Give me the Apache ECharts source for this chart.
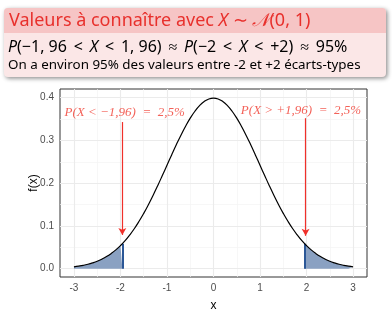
<!DOCTYPE html>
<html><head><meta charset="utf-8">
<script src="https://cdn.jsdelivr.net/npm/echarts@6/dist/echarts.min.js"></script>
<style>html,body{margin:0;padding:0;background:#fff}#c{width:392px;height:313px}</style>
</head><body><div id="c"></div>
<script>
// ---- data ----
const xValues = [-3.0,-2.9,-2.8,-2.7,-2.6,-2.5,-2.4,-2.3,-2.2,-2.1,-2.0,-1.9,-1.8,-1.7,-1.6,-1.5,-1.4,-1.3,-1.2,-1.1,-1.0,-0.9,-0.8,-0.7,-0.6,-0.5,-0.4,-0.3,-0.2,-0.1,0.0,0.1,0.2,0.3,0.4,0.5,0.6,0.7,0.8,0.9,1.0,1.1,1.2,1.3,1.4,1.5,1.6,1.7,1.8,1.9,2.0,2.1,2.2,2.3,2.4,2.5,2.6,2.7,2.8,2.9,3.0];
const densityValues = [0.0044,0.0060,0.0079,0.0104,0.0136,0.0175,0.0224,0.0283,0.0355,0.0440,0.0540,0.0656,0.0790,0.0940,0.1109,0.1295,0.1497,0.1714,0.1942,0.2179,0.2420,0.2661,0.2897,0.3123,0.3332,0.3521,0.3683,0.3814,0.3910,0.3970,0.3989,0.3970,0.3910,0.3814,0.3683,0.3521,0.3332,0.3123,0.2897,0.2661,0.2420,0.2179,0.1942,0.1714,0.1497,0.1295,0.1109,0.0940,0.0790,0.0656,0.0540,0.0440,0.0355,0.0283,0.0224,0.0175,0.0136,0.0104,0.0079,0.0060,0.0044];
const cutoffLeft = -1.96;
const cutoffRight = 1.96;
const cutoffDensity = 0.0584;
const xTicks = [-3,-2,-1,0,1,2,3];
const xMinorGrid = [-2.5,-1.5,-0.5,0.5,1.5,2.5];
const yTicks = [0,0.1,0.2,0.3,0.4];
const yMinorGrid = [0.05,0.15,0.25,0.35];
const annotationTexts = ['P(X < \u22121,96)  =  2,5%','P(X > +1,96)  =  2,5%'];
const annotationX = [-1.91, 1.88];
const annotationY = [0.364, 0.371];
const arrowX = [-1.96, 1.98];
const arrowTop = [0.343, 0.352];
const arrowTip = [0.079, 0.077];

// ---- build ----
const curve = xValues.map((x,i)=>[x,densityValues[i]]);
const leftTail = curve.filter(p=>p[0] <= cutoffLeft).concat([[cutoffLeft,cutoffDensity]]);
const rightTail = [[cutoffRight,cutoffDensity]].concat(curve.filter(p=>p[0] >= cutoffRight));

const majorCol = '#ebebeb', minorCol = '#f4f4f4';
const gridLines = []
  .concat(xMinorGrid.map(v=>({xAxis:v, lineStyle:{color:minorCol,width:0.7,type:'solid'}})))
  .concat(yMinorGrid.map(v=>({yAxis:v, lineStyle:{color:minorCol,width:0.7,type:'solid'}})))
  .concat(xTicks.map(v=>({xAxis:v, lineStyle:{color:majorCol,width:1.1,type:'solid'}})))
  .concat(yTicks.map(v=>({yAxis:v, lineStyle:{color:majorCol,width:1.1,type:'solid'}})));

const fillCol = '#8aa1c2', edgeCol = '#2b5797', red = '#f0302a';
const T = '\u2009';

const chart = echarts.init(document.getElementById('c'), null, {renderer:'canvas'});
chart.setOption({
  animation:false,
  grid:{left:60,right:25,top:89,bottom:36,show:true,borderColor:'#333',borderWidth:1,backgroundColor:'#fff',containLabel:false,outerBoundsMode:'none'},
  xAxis:{type:'value',min:-3.3,max:3.3,
    name:'x',nameLocation:'middle',nameGap:23,nameMoveOverlap:false,nameTextStyle:{color:'#000',fontSize:12,fontFamily:'Liberation Sans'},
    axisLine:{show:false},splitLine:{show:false},
    axisTick:{show:true,customValues:xTicks,length:3,lineStyle:{color:'#333'}},
    axisLabel:{customValues:xTicks,margin:6,color:'#4d4d4d',fontSize:10,fontFamily:'Liberation Sans',formatter:v=>String(v)}},
  yAxis:{type:'value',min:-0.0194,max:0.4203,
    name:'f(x)',nameLocation:'middle',nameGap:20,nameMoveOverlap:false,nameTextStyle:{color:'#000',fontSize:12,fontFamily:'Liberation Sans'},
    axisLine:{show:false},splitLine:{show:false},
    axisTick:{show:true,customValues:yTicks,length:3,lineStyle:{color:'#333'}},
    axisLabel:{customValues:yTicks,margin:6,color:'#4d4d4d',fontSize:10,fontFamily:'Liberation Sans',formatter:v=>v.toFixed(1)}},
  series:[
    {type:'line',data:[],z:1,silent:true,
      markLine:{z:1,silent:true,animation:false,symbol:['none','none'],label:{show:false},data:gridLines}},
    {type:'line',data:leftTail,showSymbol:false,lineStyle:{width:0},areaStyle:{color:fillCol,opacity:1},z:2,
      markLine:{z:3,silent:true,symbol:['none','none'],label:{show:false},lineStyle:{color:edgeCol,width:2,type:'solid'},
        data:[[{coord:[cutoffLeft,0]},{coord:[cutoffLeft,cutoffDensity]}]]}},
    {type:'line',data:rightTail,showSymbol:false,lineStyle:{width:0},areaStyle:{color:fillCol,opacity:1},z:2,
      markLine:{z:3,silent:true,symbol:['none','none'],label:{show:false},lineStyle:{color:edgeCol,width:2,type:'solid'},
        data:[[{coord:[cutoffRight,0]},{coord:[cutoffRight,cutoffDensity]}]]}},
    {type:'line',data:curve,smooth:true,showSymbol:false,lineStyle:{color:'#000',width:1.2},z:4},
    {type:'line',data:[],z:5,
      markLine:{z:5,silent:true,symbol:['none','arrow'],symbolSize:[6,7],label:{show:false},lineStyle:{color:red,width:1.2,type:'solid'},
        data:arrowX.map((x,i)=>[{coord:[x,arrowTop[i]]},{coord:[x,arrowTip[i]]}])}},
    {type:'scatter',symbolSize:0,z:6,
      data:annotationTexts.map((t,i)=>({name:t,value:[annotationX[i],annotationY[i]]})),
      label:{show:true,position:'inside',formatter:'{b}',color:'#f03a2e',fontSize:13,fontStyle:'italic',fontFamily:'Liberation Serif'}}
  ],
  graphic:[
    {type:'rect',shape:{x:4,y:8,width:382,height:69,r:4},z:0,
      style:{fill:'#fbe7e7',shadowBlur:4,shadowColor:'rgba(0,0,0,0.45)',shadowOffsetX:1.5,shadowOffsetY:1.5}},
    {type:'rect',shape:{x:4,y:8,width:382,height:25,r:[4,4,0,0]},z:1,style:{fill:'#f6c5c5'}},
    {type:'text',x:9,y:21,z:2,style:{
      text:'{a|Valeurs à connaître avec }{i|X}{a| \u223C }{c|\uD835\uDCA9}{a|(0, 1)}',
      verticalAlign:'middle',
      rich:{
        a:{fill:'#e8302c',fontSize:18,fontFamily:'Noto Sans'},
        i:{fill:'#e8302c',fontSize:18,fontFamily:'Noto Sans',fontStyle:'italic'},
        c:{fill:'#e8302c',fontSize:18,fontFamily:'DejaVu Serif',fontStyle:'italic'}
      }}},
    {type:'text',x:8,y:47,z:2,style:{
      text:'{i|P}{a|(\u22121, 96 '+T+'<'+T+' }{i|X}{a| '+T+'<'+T+' 1, 96) '+T+'\u2248'+T+' }{i|P}{a|(\u22122 '+T+'<'+T+' }{i|X}{a| '+T+'<'+T+' +2) '+T+'\u2248'+T+' 95%}',
      verticalAlign:'middle',
      rich:{
        a:{fill:'#000',fontSize:16,fontFamily:'Noto Sans'},
        i:{fill:'#000',fontSize:16,fontFamily:'Noto Sans',fontStyle:'italic'}
      }}},
    {type:'text',x:8,y:65,z:2,style:{
      text:'On a environ 95% des valeurs entre -2 et +2 écarts-types',
      verticalAlign:'middle',fill:'#000',fontSize:13.4,fontFamily:'Noto Sans'}}
  ]
});
</script></body></html>
